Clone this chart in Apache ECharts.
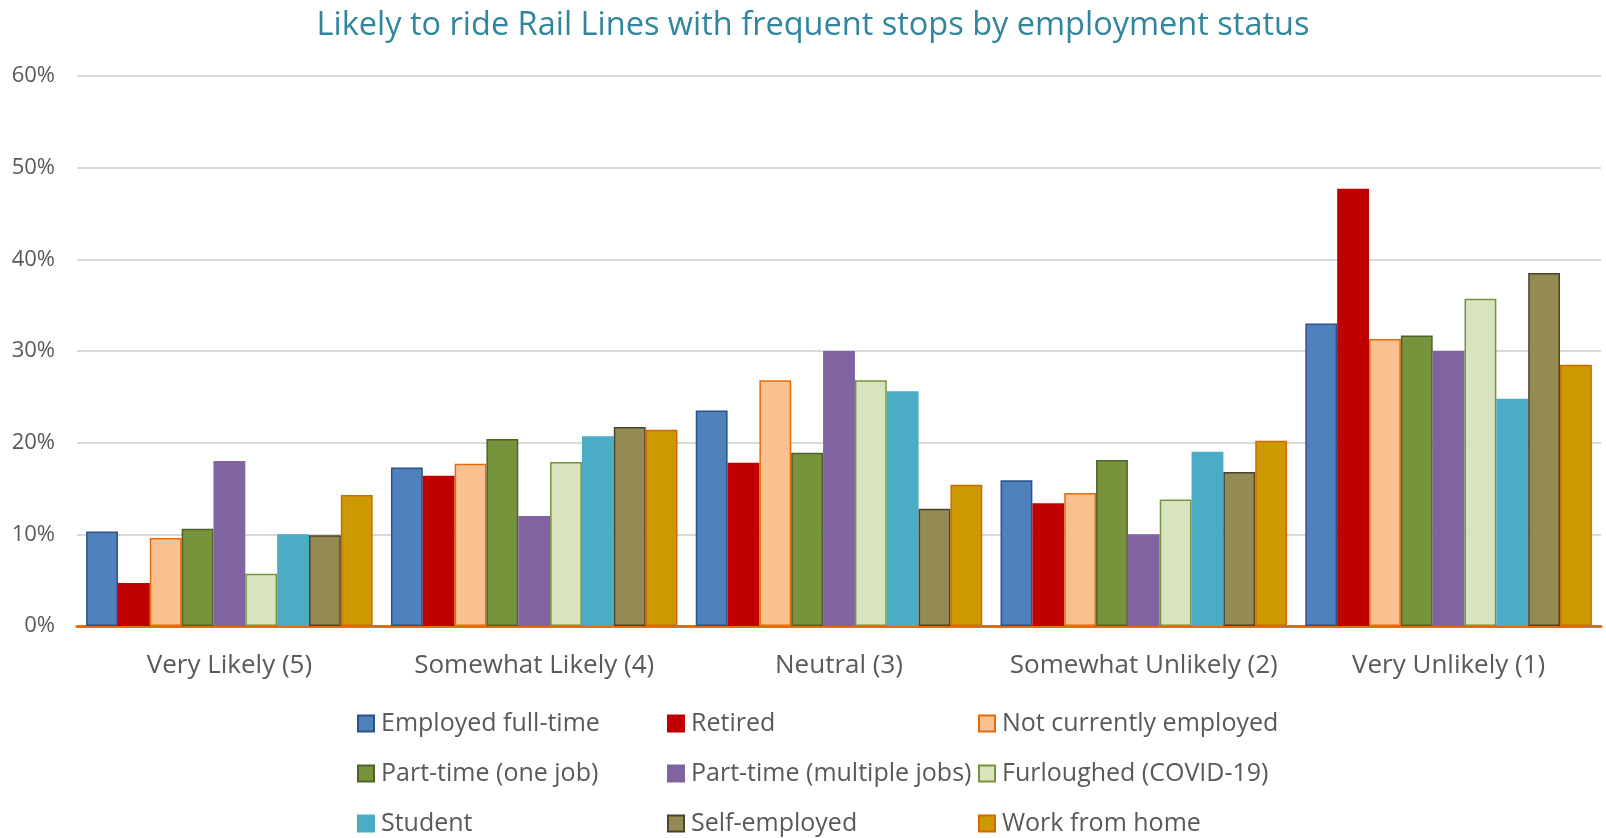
<!DOCTYPE html>
<html>
<head>
<meta charset="utf-8">
<script src="https://cdn.jsdelivr.net/npm/echarts@6/dist/echarts.min.js"></script>
<style>
html,body{margin:0;padding:0;background:#fff;}
#chart{width:1606px;height:838px;}
</style>
</head>
<body>
<div id="chart"></div>
<script>
const categories = ['Very Likely (5)', 'Somewhat Likely (4)', 'Neutral (3)', 'Somewhat Unlikely (2)', 'Very Unlikely (1)'];
const seriesNames = ['Employed full-time', 'Retired', 'Not currently employed', 'Part-time (one job)', 'Part-time (multiple jobs)', 'Furloughed (COVID-19)', 'Student', 'Self-employed', 'Work from home'];
const employedFullTime = [10.3, 17.3, 23.5, 15.9, 33.0];
const retired = [4.7, 16.4, 17.8, 13.4, 47.7];
const notCurrentlyEmployed = [9.6, 17.7, 26.8, 14.5, 31.3];
const partTimeOne = [10.6, 20.4, 18.9, 18.1, 31.7];
const partTimeMultiple = [18.0, 12.0, 30.0, 10.0, 30.0];
const furloughed = [5.7, 17.9, 26.8, 13.8, 35.7];
const student = [10.0, 20.7, 25.6, 19.0, 24.8];
const selfEmployed = [9.9, 21.7, 12.8, 16.8, 38.5];
const workFromHome = [14.3, 21.4, 15.4, 20.2, 28.5];
const yTicks = [0, 10, 20, 30, 40, 50, 60];

const values = [employedFullTime, retired, notCurrentlyEmployed, partTimeOne, partTimeMultiple, furloughed, student, selfEmployed, workFromHome];
const fills = ['#4F81BD', '#C00000', '#FAC090', '#77933C', '#8064A2', '#D7E4BD', '#4BACC6', '#948A54', '#CC9900'];
const borders = ['#2C5087', '#C00000', '#E46C0A', '#4F6228', '#8064A2', '#77933C', '#4BACC6', '#4A452A', '#D06A00'];

const chart = echarts.init(document.getElementById('chart'));
const font = '"Open Sans", "Noto Sans", sans-serif';

const series = seriesNames.map((n, i) => ({
  name: n,
  type: 'bar',
  data: values[i],
  barGap: '0%',
  barCategoryGap: '6%',
  itemStyle: { color: fills[i], borderColor: borders[i], borderWidth: 1.5 }
}));

const legendBase = {
  orient: 'vertical',
  top: 711,
  padding: 0,
  height: 126,
  itemWidth: 16,
  itemHeight: 16,
  itemGap: 25,
  icon: 'rect',
  textStyle: { fontFamily: font, fontSize: 25, color: '#595959', padding: [0, 0, 0, 2] }
};

chart.setOption({
  animation: false,
  backgroundColor: '#fff',
  title: {
    text: 'Likely to ride Rail Lines with frequent stops by employment status',
    left: 808,
    textAlign: 'center',
    top: 4,
    textStyle: { fontFamily: font, fontSize: 32.5, fontWeight: 'normal', color: '#31859C' }
  },
  legend: [
    Object.assign({}, legendBase, { left: 357, data: [seriesNames[0], seriesNames[3], seriesNames[6]] }),
    Object.assign({}, legendBase, { left: 667, data: [seriesNames[1], seriesNames[4], seriesNames[7]] }),
    Object.assign({}, legendBase, { left: 978, data: [seriesNames[2], seriesNames[5], seriesNames[8]] })
  ],
  grid: { left: 77, right: 5, top: 76, bottom: 212, containLabel: false },
  xAxis: {
    type: 'category',
    data: categories,
    axisTick: { show: false },
    axisLine: { lineStyle: { color: '#E46C0A', width: 3 } },
    axisLabel: { interval: 0, fontFamily: font, fontSize: 26, color: '#595959', margin: 27 }
  },
  yAxis: {
    type: 'value',
    min: yTicks[0],
    max: yTicks[yTicks.length - 1],
    interval: 10,
    axisLine: { show: false },
    axisTick: { show: false },
    splitLine: { lineStyle: { color: '#D9D9D9', width: 2 } },
    axisLabel: { fontFamily: font, fontSize: 22, color: '#595959', margin: 22, formatter: v => v + '%' }
  },
  series: series
});
</script>
</body>
</html>
